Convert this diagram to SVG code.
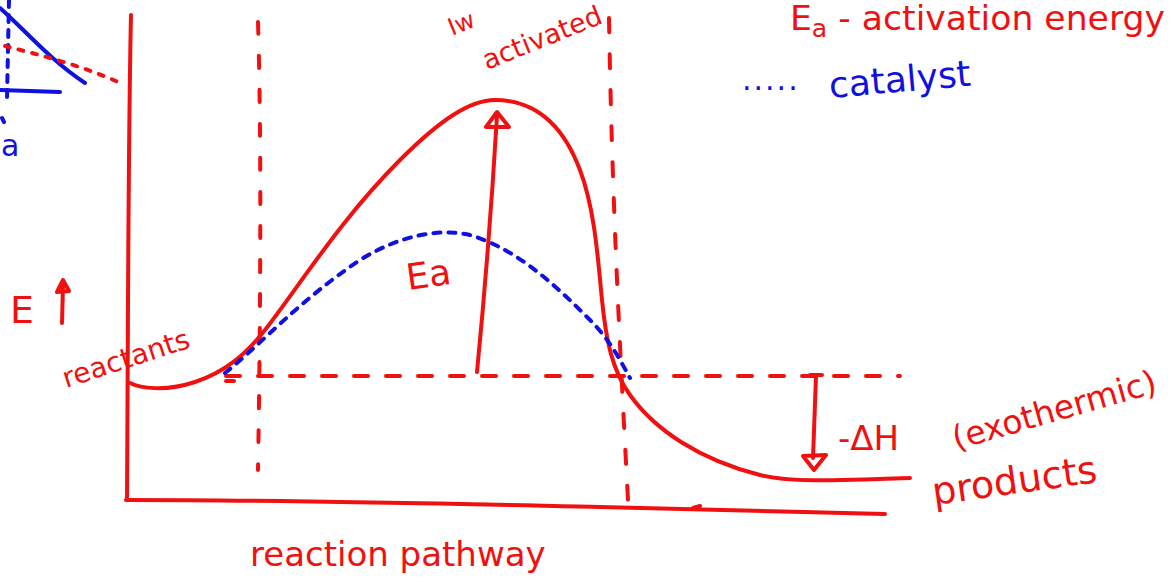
<svg xmlns="http://www.w3.org/2000/svg" width="1175" height="584" viewBox="0 0 1175 584">
<style>
.r{fill:none;stroke:#f01010;stroke-width:4;stroke-linecap:round;stroke-linejoin:round}
.b{fill:none;stroke:#1010e0;stroke-width:4;stroke-linecap:round;stroke-linejoin:round}
.rd{stroke-dasharray:14 18}
.bd{stroke-dasharray:7 8}
.tr{fill:#f01010;font-family:"DejaVu Sans","Liberation Sans",sans-serif}
.tb{fill:#1010e0;font-family:"DejaVu Sans","Liberation Sans",sans-serif}
</style>
<rect width="1175" height="584" fill="#fff"/>
<!-- top-left fragment -->
<g id="corner">
<path class="b bd" d="M9,0 L7,98"/>
<path class="b" d="M0,8 C25,30 50,60 85,83"/>
<path class="b" d="M0,90 L60,92"/>
<path class="b" d="M2,118 L4,122"/>
<text class="tb" x="1" y="156" font-size="30">a</text>
<path class="r" stroke-dasharray="5 9" d="M5,46 C40,55 80,65 118,82"/>
</g>
<!-- axes -->
<g id="axes">
<path class="r" d="M131,15 C128,150 128,350 127,500"/>
<path class="r" d="M126,500 C300,500 500,505 600,507 L885,514"/>
<path class="r" d="M693,508 L700,506"/>
</g>
<!-- guide lines -->
<g id="guides">
<path class="r" stroke-dasharray="12 22" d="M258,22 C262,150 260,350 258,470"/>
<path class="r" stroke-dasharray="14 22" d="M609,18 C612,200 620,350 628,500"/>
<path class="r rd" d="M226,376 L900,376"/>
<path class="r" d="M226,381 L234,381"/>
</g>
<!-- curves -->
<g id="curves">
<path class="r" d="M130,383 C140,388 165,392 195,382 C225,372 245,355 265,330 C300,285 340,220 400,160 C440,120 470,100 495,100 C540,100 565,130 580,170 C595,210 598,260 602,300 C606,340 612,370 630,395 C655,430 700,460 760,475 C790,482 820,481 910,478"/>
<path class="b bd" d="M225,373 C260,345 300,300 360,260 C400,235 440,228 470,235 C520,250 560,290 590,320 C610,340 620,360 630,378"/>
</g>
<!-- arrows -->
<g id="connectors">
<path class="r" d="M477,372 C485,290 492,200 497,116"/>
<path class="r" d="M497,112 L486,127 L509,127 Z"/>
<path class="r" d="M810,375 L822,375 M816,376 L813,458"/>
<path class="r" d="M803,456 L826,455 L814,470 Z"/>
<path class="r" d="M62,323 L63,284 M57,292 L63,280 L69,291 Z"/>
</g>
<!-- labels -->
<g id="labels">
<text class="tr" x="408" y="290" font-size="36" transform="rotate(-8 408 290)">Ea</text>
<text class="tr" x="10" y="323" font-size="38">E</text>
<text class="tr" x="66" y="388" font-size="28" transform="rotate(-18 66 388)">reactants</text>
<text class="tr" x="838" y="450" font-size="34">-ΔH</text>
<text class="tr" x="956" y="450" font-size="33" transform="rotate(-16 956 450)">(exothermic)</text>
<text class="tr" x="934" y="505" font-size="38" transform="rotate(-8 934 505)">products</text>
<text class="tr" x="250" y="566" font-size="34">reaction pathway</text>
<text class="tr" x="487" y="70" font-size="27" transform="rotate(-22 487 70)">activated</text>
<text class="tr" x="452" y="36" font-size="24" transform="rotate(-22 452 36)">Iw</text>
<text class="tr" x="790" y="30" font-size="33" font-family="Liberation Sans" textLength="375" lengthAdjust="spacingAndGlyphs">E<tspan font-size="24" dy="7">a</tspan><tspan dy="-7"> - activation energy</tspan></text>
<text class="tb" x="742" y="90" font-size="30" letter-spacing="2">.....</text>
<text class="tb" x="830" y="98" font-size="36" transform="rotate(-5 830 98)">catalyst</text>
</g>
</svg>
